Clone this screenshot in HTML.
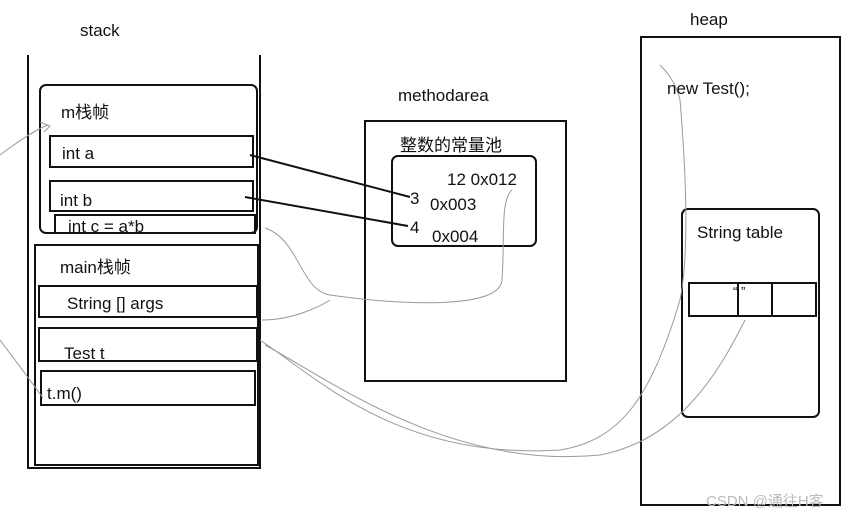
<!DOCTYPE html>
<html><head><meta charset="utf-8"><style>
body{margin:0;background:#fff}
svg text{font-family:"Liberation Sans","Noto Sans CJK SC",sans-serif;font-size:17px;fill:#111}
</style></head><body>
<svg width="864" height="520" viewBox="0 0 864 520" xmlns="http://www.w3.org/2000/svg">
<g fill="none" stroke="#111" stroke-width="2">
<path d="M28 55 V468 H260 V55"/>
<rect x="40" y="85" width="217" height="148" rx="6"/>
<rect x="50" y="136" width="203" height="31"/>
<rect x="50" y="181" width="203" height="30"/>
<rect x="55" y="215" width="200" height="18"/>
<rect x="35" y="245" width="223" height="220"/>
<rect x="39" y="286" width="218" height="31"/>
<rect x="39" y="328" width="218" height="33"/>
<rect x="41" y="371" width="214" height="34"/>
<rect x="365" y="121" width="201" height="260"/>
<rect x="392" y="156" width="144" height="90" rx="6"/>
<rect x="641" y="37" width="199" height="468"/>
<rect x="682" y="209" width="137" height="208" rx="6"/>
<rect x="689" y="283" width="127" height="33"/>
<path d="M738 283 V316 M772 282 V316"/>
<path d="M250 155 L410 197 M245 197 L408 226"/>
</g>
<g fill="none" stroke="#999" stroke-width="1">
<path d="M0 155 C20 140 35 130 48 125 M40 122 L50 126 L44 132"/>
<path d="M0 340 C15 360 30 380 43 398"/>
<path d="M265 228 C300 240 300 290 330 295 C400 305 500 310 502 280 C505 240 500 200 512 190"/>
<path d="M262 320 C300 320 330 300 330 300"/>
<path d="M260 340 C320 380 400 460 560 450 C620 440 650 400 680 300 C690 250 685 160 680 100 C675 80 665 70 660 65"/>
<path d="M265 345 C330 380 450 470 600 455 C680 440 720 370 745 320"/>
</g>
<text x="80" y="36">stack</text>
<text x="61" y="118">m栈帧</text>
<text x="62" y="159">int a</text>
<text x="60" y="206">int b</text>
<text x="68" y="232">int c = a*b</text>
<text x="60" y="273">main栈帧</text>
<text x="67" y="309">String [] args</text>
<text x="64" y="359">Test t</text>
<text x="47" y="399">t.m()</text>
<text x="398" y="101">methodarea</text>
<text x="400" y="151">整数的常量池</text>
<text x="447" y="185">12 0x012</text>
<text x="410" y="204">3</text>
<text x="430" y="210">0x003</text>
<text x="410" y="233">4</text>
<text x="432" y="242">0x004</text>
<text x="690" y="25">heap</text>
<text x="667" y="94">new Test();</text>
<text x="697" y="238">String table</text>
<text x="733" y="296" style="font-size:13px">“ ”</text>
<text x="706" y="506" style="font-size:15px;fill:#bbb">CSDN @通往H客</text>
</svg>
</body></html>
